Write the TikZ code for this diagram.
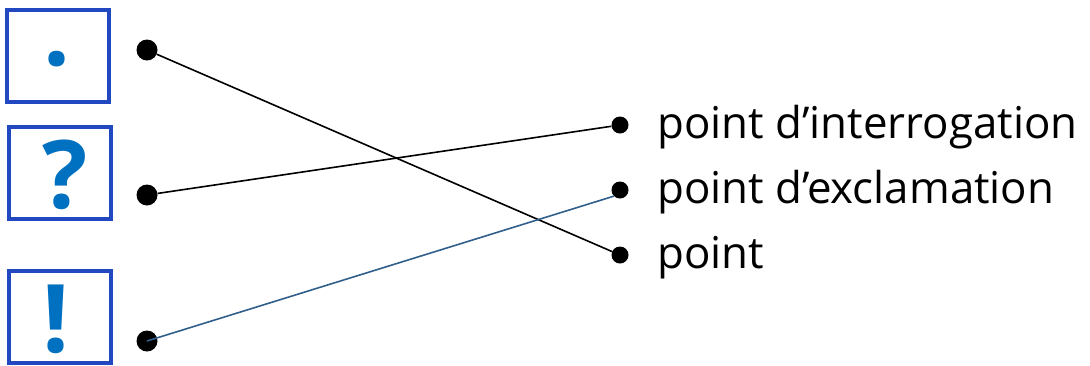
\documentclass[tikz,border=0pt]{standalone}
\usepackage{fontspec}
\setmainfont{Open Sans}
\usepackage{tikz}
\usetikzlibrary{positioning}
\definecolor{boxblue}{RGB}{33,72,192}
\definecolor{signblue}{RGB}{0,112,192}
\definecolor{lineblue}{RGB}{47,95,138}

\begin{document}
\begin{tikzpicture}[x=1bp, y=-1bp,
    signbox/.style={rectangle, draw=boxblue, line width=4bp, fill=white,
        minimum width=101bp, minimum height=92bp, inner sep=0pt},
    sign/.style={anchor=base, inner sep=0pt, text=signblue,
        font=\fontsize{95}{95}\selectfont\bfseries},
    blob/.style={circle, fill=black, inner sep=0pt, minimum size=#1},
    word/.style={anchor=base west, inner sep=0pt, font=\fontsize{44}{44}\selectfont},
    link/.style={line width=1.6bp, black}
]
\useasboundingbox (0,0) rectangle (1090,365);
% signs
\node (B1) [signbox] at (58,56) {};
\node (B2) [signbox] at (60,173) {};
\node (B3) [signbox] at (60,317) {};
\node (S1) [sign] at (57,92) {·};
\node (S2) [sign] at (65,208) {?};
\node (S3) [sign] at (56,352) {!};
% black links go under the dots
\node (L1) [blob=21bp] at (147,50) {};
\node (L2) [blob=21bp] at (147,195) {};
\node (R1) [blob=17bp] at (620,125) {};
\node (R3) [blob=17bp] at (620,255) {};
\draw [link] (L1) -- (R3);
\draw [link] (L2) -- (R1);
% the blue one lies over its dots
\node (L3) [blob=21bp] at (147,341) {};
\node (R2) [blob=17bp] at (620,190) {};
\draw [link, lineblue] (L3.center) -- (R2.south west);
% names
\node (N1) [word] at (657,138) {point d’interrogation};
\node (N2) [word] at (657,203) {point d’exclamation};
\node (N3) [word] at (657,268) {point};
\end{tikzpicture}
\end{document}
